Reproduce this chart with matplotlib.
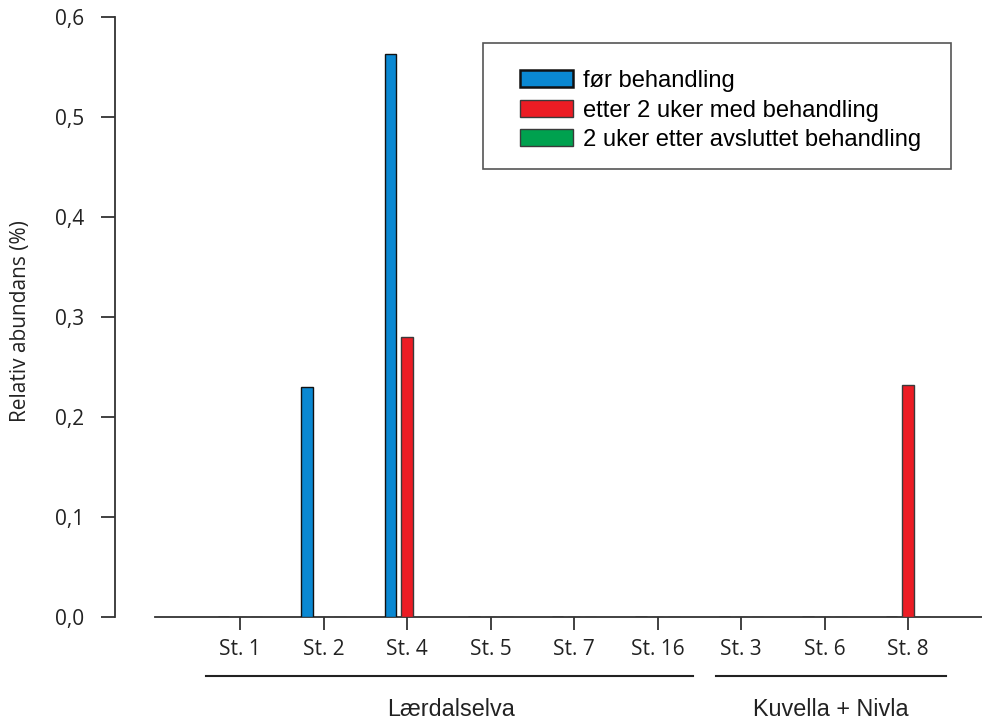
import numpy as np
import matplotlib.pyplot as plt
import matplotlib.transforms as mtrans
from matplotlib.patches import Rectangle


# data
stations = ["St. 1", "St. 2", "St. 4", "St. 5", "St. 7", "St. 16", "St. 3", "St. 6", "St. 8"]
for_beh = [0, 0.23, 0.563, 0, 0, 0, 0, 0, 0]
etter_2_uker = [0, 0, 0.28, 0, 0, 0, 0, 0, 0.232]
etter_avsl = [0, 0, 0, 0, 0, 0, 0, 0, 0]
series_names = ["før behandling", "etter 2 uker med behandling", "2 uker etter avsluttet behandling"]
groups = ["Lærdalselva", "Kuvella + Nivla"]
yticks = [0.0, 0.1, 0.2, 0.3, 0.4, 0.5, 0.6]

colors = ["#0a88d2", "#ec1c24", "#00a14f"]
edges = ["#111111", "#3a3a3a", "#3a3a3a"]
tick_font = "Open Sans"
text_font = "Liberation Sans"

W, H = 982, 722
fig = plt.figure(figsize=(W / 100, H / 100), dpi=100)
ax = fig.add_axes([115 / W, 1 - 617 / H, 1 - 115 / W, 600 / H])

x = np.arange(len(stations))
bw = 0.138
offs = [-0.2, 0.0, 0.2]
vals = [for_beh, etter_2_uker, etter_avsl]
handles = []
for i in range(3):
    v = np.array(vals[i])
    b = ax.bar(x + offs[i], v, bw, color=colors[i], edgecolor=edges[i],
               linewidth=1.0, label=series_names[i], zorder=3)
    handles.append(b)

ax.set_xlim(-1.497, 8.886)
ax.set_ylim(0, 0.6)
for s in ["top", "right"]:
    ax.spines[s].set_visible(False)
ax.spines["left"].set_bounds(0, 0.6)
ax.spines["bottom"].set_bounds(-1.02, 8.886)
for s in ["left", "bottom"]:
    ax.spines[s].set_color("#333333")
    ax.spines[s].set_linewidth(1.3)
    ax.spines[s].set_zorder(2)

ax.set_xticks(x)
ax.set_xticklabels(stations, family=tick_font, fontsize=15, color="#222222")
ax.set_yticks(yticks)
ax.set_yticklabels([("%.1f" % t).replace(".", ",") for t in yticks],
                   family=tick_font, fontsize=15, color="#222222")
ax.tick_params(axis="x", length=9, width=1.3, color="#333333", pad=7)
ax.tick_params(axis="y", length=10, width=1.3, color="#333333", pad=12)
ax.set_ylabel("Relativ abundans (%)", family=tick_font, fontsize=15,
              color="#222222")
ax.yaxis.set_label_coords(31 / W, 1 - 321 / H, transform=fig.transFigure)

# group lines under the ticks
trans = mtrans.blended_transform_factory(ax.transData, fig.transFigure)
line_ext = [(-0.41, 5.43), (5.70, 8.46)]
for a, b in line_ext:
    ax.plot([a, b], [1 - 676 / H, 1 - 676 / H], color="#222222", lw=1.5,
            transform=trans, clip_on=False)
lab_x = [2.53, 7.07]
for g, lx in zip(groups, lab_x):
    ax.text(lx, 1 - 710 / H, g, transform=trans, ha="center", va="center",
            family=text_font, fontsize=16.8, color="#222222")

# legend box + legend
ax.add_patch(Rectangle((483 / W, 1 - 169 / H), (951 - 483) / W, (169 - 43) / H,
                       transform=fig.transFigure, facecolor="white",
                       edgecolor="#555555", linewidth=1.2, zorder=5, clip_on=False))
leg = ax.legend(handles=handles, loc="upper left",
                bbox_to_anchor=(520 / W, 1 - 70 / H), bbox_transform=fig.transFigure,
                frameon=False, borderpad=0, borderaxespad=0,
                handlelength=2.25, handleheight=0.72, handletextpad=0.42,
                labelspacing=0.32, prop={"family": text_font, "size": 17.1})
leg.set_zorder(6)
for h, ec in zip(leg.legend_handles, edges):
    h.set_edgecolor(ec)
leg.legend_handles[0].set_linewidth(1.8)

fig.savefig("out.png", dpi=100)
